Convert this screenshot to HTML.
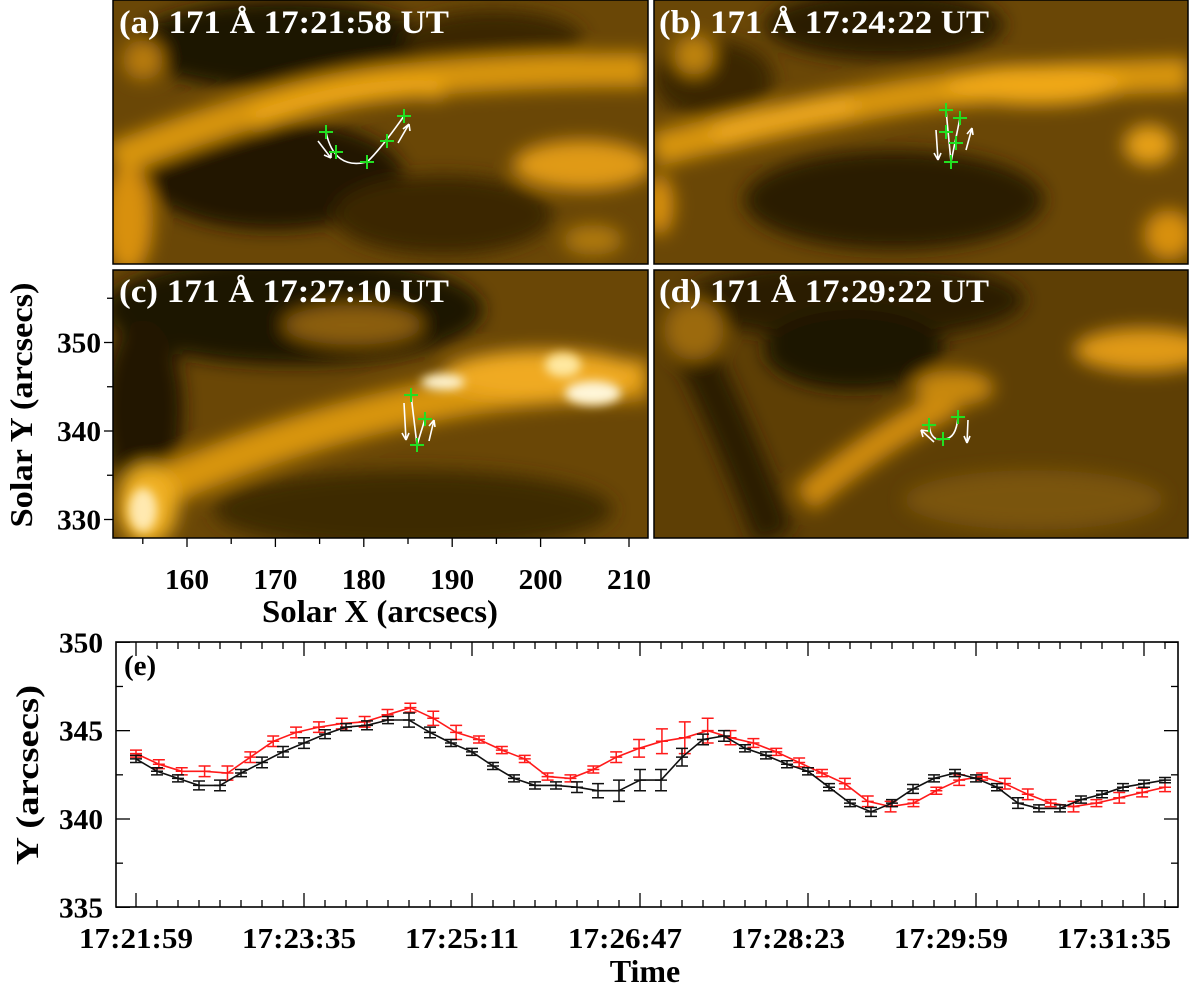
<!DOCTYPE html>
<html><head><meta charset="utf-8">
<style>
html,body{margin:0;padding:0;background:#fff;}
svg{display:block;}
.lbl{font-family:"Liberation Serif",serif;font-weight:bold;fill:#fff;font-size:33px;}
.tk{font-family:"Liberation Serif",serif;font-weight:bold;fill:#000;font-size:29px;}
.ttl{font-family:"Liberation Serif",serif;font-weight:bold;fill:#000;font-size:32px;}
</style></head>
<body>
<svg id="fig" width="1200" height="984" viewBox="0 0 1200 984" xmlns="http://www.w3.org/2000/svg">
<defs>
<filter id="bl" x="-20%" y="-20%" width="140%" height="140%"><feGaussianBlur stdDeviation="9"/></filter>
<filter id="bl2" x="-20%" y="-20%" width="140%" height="140%"><feGaussianBlur stdDeviation="5"/></filter>
<clipPath id="ca"><rect x="113" y="0" width="535" height="264"/></clipPath>
<clipPath id="cb"><rect x="654" y="0" width="534" height="264"/></clipPath>
<clipPath id="cc"><rect x="113" y="270" width="535" height="268"/></clipPath>
<clipPath id="cd"><rect x="654" y="270" width="534" height="268"/></clipPath>
</defs>

<!-- Panel a -->
<g clip-path="url(#ca)">
<rect x="113" y="0" width="535" height="264" fill="#6a4706"/>
<g transform="translate(113,0)" filter="url(#bl)">
<ellipse cx="170" cy="45" rx="150" ry="45" fill="#1f1500"/>
<ellipse cx="380" cy="40" rx="90" ry="30" fill="#3a2703"/>
<ellipse cx="160" cy="175" rx="130" ry="55" fill="#241800"/>
<ellipse cx="330" cy="215" rx="110" ry="40" fill="#3a2804"/>
<path d="M0,160 Q150,100 260,85 T535,70" stroke="#d89510" stroke-width="34" fill="none"/>
<path d="M140,120 Q250,80 330,90" stroke="#f0a818" stroke-width="18" fill="none"/>
<ellipse cx="470" cy="165" rx="70" ry="25" fill="#e09a12"/>
<ellipse cx="15" cy="220" rx="25" ry="55" fill="#d8900e"/>
<ellipse cx="30" cy="60" rx="20" ry="20" fill="#b87c0c"/>
<ellipse cx="480" cy="240" rx="30" ry="15" fill="#b07a0c"/>
</g>
</g>
<rect x="113" y="0" width="535" height="264" fill="none" stroke="#000" stroke-width="1.5"/>
<text class="lbl" x="119" y="33" textLength="330" lengthAdjust="spacingAndGlyphs">(a) 171 Å  17:21:58 UT</text>
<g fill="none" stroke="#fff" stroke-width="1.6">
<path d="M326,132 Q334,170 367,162 Q380,150 404,116"/>
<path d="M318,141 L331,158 M331,158 L324,155 M331,158 L331,151"/>
<path d="M398,143 L409,124 M409,124 L403,129 M409,124 L410,131"/>
</g>
<g stroke="#22e022" stroke-width="2">
<path d="M319,132h14M326,125v14 M329,152h14M336,145v14 M360,162h14M367,155v14 M380,141h14M387,134v14 M397,116h14M404,109v14"/>
</g>

<!-- Panel b -->
<g clip-path="url(#cb)">
<rect x="654" y="0" width="534" height="264" fill="#6a4706"/>
<g transform="translate(654,0)" filter="url(#bl)">
<ellipse cx="230" cy="25" rx="120" ry="35" fill="#2a1c02"/>
<ellipse cx="60" cy="80" rx="60" ry="40" fill="#3a2703"/>
<ellipse cx="240" cy="200" rx="150" ry="50" fill="#2a1c02"/>
<path d="M0,150 Q120,120 230,100 T535,75" stroke="#d89510" stroke-width="34" fill="none"/>
<path d="M60,135 Q140,110 200,105" stroke="#f0aa20" stroke-width="16" fill="none"/>
<ellipse cx="380" cy="85" rx="90" ry="20" fill="#f0a818"/>
<ellipse cx="495" cy="145" rx="25" ry="20" fill="#e6a016"/>
<ellipse cx="515" cy="235" rx="25" ry="25" fill="#d8900e"/>
<ellipse cx="40" cy="55" rx="20" ry="20" fill="#c0840c"/>
<ellipse cx="5" cy="205" rx="15" ry="30" fill="#d8900e"/>
</g>
</g>
<rect x="654" y="0" width="534" height="264" fill="none" stroke="#000" stroke-width="1.5"/>
<text class="lbl" x="659" y="33" textLength="330" lengthAdjust="spacingAndGlyphs">(b) 171 Å  17:24:22 UT</text>
<g fill="none" stroke="#fff" stroke-width="1.6">
<path d="M946,110 L951,162 L960,118"/>
<path d="M936,130 L938,160 M938,160 L934,153 M938,160 L941,153"/>
<path d="M966,150 L972,128 M972,128 L967,134 M972,128 L973,135"/>
</g>
<g stroke="#22e022" stroke-width="2">
<path d="M939,110h14M946,103v14 M953,118h14M960,111v14 M939,132h14M946,125v14 M949,143h14M956,136v14 M944,162h14M951,155v14"/>
</g>

<!-- Panel c -->
<g clip-path="url(#cc)">
<rect x="113" y="270" width="535" height="268" fill="#6a4706"/>
<g transform="translate(113,270)" filter="url(#bl)">
<ellipse cx="180" cy="40" rx="190" ry="55" fill="#1f1500"/>
<ellipse cx="30" cy="140" rx="40" ry="90" fill="#241800"/>
<ellipse cx="300" cy="240" rx="200" ry="40" fill="#3e2a04"/>
<path d="M20,230 Q150,170 280,140 T535,110" stroke="#d89510" stroke-width="40" fill="none"/>
<ellipse cx="430" cy="105" rx="100" ry="25" fill="#f0aa20"/>
<ellipse cx="240" cy="55" rx="70" ry="20" fill="#8c5e08"/>
<ellipse cx="35" cy="235" rx="30" ry="40" fill="#f0b020"/>
</g>
<g transform="translate(113,270)" filter="url(#bl2)">
<ellipse cx="330" cy="112" rx="22" ry="8" fill="#fff4d0"/>
<ellipse cx="480" cy="123" rx="28" ry="12" fill="#fff6d8"/>
<ellipse cx="450" cy="95" rx="18" ry="12" fill="#ffe8a0"/>
<ellipse cx="30" cy="240" rx="14" ry="22" fill="#ffe9b0"/>
</g>
</g>
<rect x="113" y="270" width="535" height="268" fill="none" stroke="#000" stroke-width="1.5"/>
<text class="lbl" x="119" y="302" textLength="330" lengthAdjust="spacingAndGlyphs">(c) 171 Å  17:27:10 UT</text>
<g fill="none" stroke="#fff" stroke-width="1.6">
<path d="M411,395 L417,445 L425,419"/>
<path d="M404,403 L406,440 M406,440 L402,433 M406,440 L409,433"/>
<path d="M429,441 L434,420 M434,420 L429,426 M434,420 L435,427"/>
</g>
<g stroke="#22e022" stroke-width="2">
<path d="M404,395h14M411,388v14 M418,419h14M425,412v14 M410,445h14M417,438v14"/>
</g>

<!-- Panel d -->
<g clip-path="url(#cd)">
<rect x="654" y="270" width="534" height="268" fill="#5e3f05"/>
<g transform="translate(654,270)" filter="url(#bl)">
<ellipse cx="200" cy="30" rx="170" ry="40" fill="#2a1c02"/>
<ellipse cx="200" cy="80" rx="90" ry="40" fill="#1f1500"/>
<path d="M30,60 Q80,160 120,268" stroke="#2a1c02" stroke-width="40" fill="none"/>
<ellipse cx="490" cy="80" rx="70" ry="22" fill="#e09a12"/>
<path d="M150,230 Q220,170 300,130" stroke="#d08c0e" stroke-width="30" fill="none"/>
<ellipse cx="300" cy="118" rx="40" ry="18" fill="#c8880e"/>
<ellipse cx="40" cy="60" rx="30" ry="30" fill="#9c6a0a"/>
<ellipse cx="380" cy="230" rx="130" ry="30" fill="#7a5408"/>
</g>
</g>
<rect x="654" y="270" width="534" height="268" fill="none" stroke="#000" stroke-width="1.5"/>
<text class="lbl" x="659" y="302" textLength="330" lengthAdjust="spacingAndGlyphs">(d) 171 Å  17:29:22 UT</text>
<g fill="none" stroke="#fff" stroke-width="1.6">
<path d="M929,425 Q931,442 943,439 Q956,440 958,417"/>
<path d="M934,442 L921,430 M921,430 L928,431 M921,430 L923,437"/>
<path d="M968,420 L967,443 M967,443 L964,436 M967,443 L970,436"/>
</g>
<g stroke="#22e022" stroke-width="2">
<path d="M922,425h14M929,418v14 M951,417h14M958,410v14 M936,439h14M943,432v14"/>
</g>

<!-- Image axes -->
<g id="imgaxes"></g>
<text class="ttl" x="380" y="622" text-anchor="middle" textLength="236" lengthAdjust="spacingAndGlyphs">Solar X (arcsecs)</text>
<text class="ttl" x="0" y="0" transform="translate(32,405) rotate(-90)" text-anchor="middle" textLength="245" lengthAdjust="spacingAndGlyphs">Solar Y (arcsecs)</text>

<!-- Chart e -->
<g id="chart"></g>
<text class="tk" x="124" y="675">(e)</text>
<text class="ttl" x="645" y="982" text-anchor="middle">Time</text>
<text class="ttl" x="0" y="0" transform="translate(38,775) rotate(-90)" text-anchor="middle" textLength="180" lengthAdjust="spacingAndGlyphs">Y (arcsecs)</text>
</svg>
<script>
const NS="http://www.w3.org/2000/svg";
// ---- data ----
const blackY=[343.4,342.7,342.3,341.9,341.9,342.6,343.2,343.8,344.3,344.8,345.2,345.3,345.6,345.6,344.9,344.3,343.8,343.0,342.3,341.9,341.9,341.8,341.6,341.6,342.2,
342.2,343.5,344.5,344.7,344.0,343.6,343.1,342.7,341.8,340.9,340.4,340.9,341.7,342.3,342.6,342.3,341.8,340.9,340.6,340.6,341.1,341.4,341.8,342.0,342.2];
const blackErr=[0.2,0.2,0.2,0.25,0.3,0.2,0.3,0.3,0.3,0.25,0.2,0.25,0.2,0.4,0.3,0.2,0.2,0.2,0.2,0.2,0.2,0.3,0.4,0.6,0.6,
0.6,0.5,0.3,0.3,0.2,0.2,0.2,0.2,0.2,0.2,0.25,0.2,0.25,0.2,0.2,0.2,0.2,0.3,0.2,0.2,0.2,0.2,0.2,0.2,0.15];
const redY=[343.7,343.1,342.7,342.7,342.6,343.5,344.4,344.9,345.2,345.4,345.5,345.9,346.3,345.7,344.9,344.5,343.9,343.4,342.4,342.3,342.8,343.5,344.0,
344.4,344.6,345.0,344.6,344.3,343.8,343.2,342.6,342.0,341.0,340.7,340.9,341.6,342.2,342.4,342.0,341.4,340.9,340.7,340.9,341.2,341.5,341.8];
const redErr=[0.2,0.25,0.2,0.3,0.4,0.3,0.3,0.3,0.3,0.3,0.3,0.3,0.25,0.4,0.4,0.2,0.2,0.2,0.2,0.2,0.2,0.3,0.5,
0.7,0.9,0.7,0.4,0.25,0.2,0.25,0.2,0.3,0.3,0.3,0.2,0.2,0.3,0.2,0.3,0.3,0.2,0.3,0.2,0.3,0.25,0.25];
const xTickLabels=["17:21:59","17:23:35","17:25:11","17:26:47","17:28:23","17:29:59","17:31:35"];
const yTicks=[335,340,345,350];
const solarXTicks=[160,170,180,190,200,210];
const solarYTicks=[330,340,350];
const SPAN=588;
const TICKSTEP=96;

const X0=136, PXS=1.75;
const xs=t=>X0+t*PXS;
const ys=v=>819-(v-340)*17.67;
const L=116,R=1178,T=642,B=907;
const chart=document.getElementById('chart');
function mk(tag,attrs,parent){const e=document.createElementNS(NS,tag);for(const k in attrs)e.setAttribute(k,attrs[k]);(parent||chart).appendChild(e);return e;}

let fr=mk('rect',{x:L,y:T,width:R-L,height:B-T,fill:'none',stroke:'#000','stroke-width':1.6});


for(let i=0;i<=6*8+2;i++){
  const t=i*12, x=xs(t); if(x>R) break;
  const len=(i%8===0)?14:7;
  mk('line',{x1:x,y1:B,x2:x,y2:B-len,stroke:'#000','stroke-width':1.3});
  mk('line',{x1:x,y1:T,x2:x,y2:T+len,stroke:'#000','stroke-width':1.3});
}
// label positions in reference drift slightly left of the ticks
xTickLabels.forEach((s,i)=>{
  const tx=mk('text',{x:136+i*163,y:948,'text-anchor':'middle',class:'tk',textLength:114,lengthAdjust:'spacingAndGlyphs'});
  tx.textContent=s;
  
  
});
for(let v=335;v<=350;v+=2.5){
  const y=ys(v), len=(v%5===0)?14:7;
  mk('line',{x1:L,y1:y,x2:L+len,y2:y,stroke:'#000','stroke-width':1.3});
  mk('line',{x1:R,y1:y,x2:R-len,y2:y,stroke:'#000','stroke-width':1.3});
}
yTicks.forEach(v=>{
  const tx=mk('text',{x:103,y:ys(v)+10,'text-anchor':'end',class:'tk',textLength:44,lengthAdjust:'spacingAndGlyphs'});
  tx.textContent=v;
  
  
});
function series(vals,errs,color,name){
  const n=vals.length, dt=SPAN/(n-1);
  const g=mk('g',{});
  
  
  const pts=vals.map((v,i)=>xs(i*dt).toFixed(1)+','+ys(v).toFixed(1)).join(' ');
  mk('polyline',{points:pts,fill:'none',stroke:color,'stroke-width':1.6},g);
  vals.forEach((v,i)=>{
    const x=xs(i*dt), y1=ys(v+errs[i]), y2=ys(v-errs[i]), y=ys(v);
    const p=mk('path',{d:`M${x},${y1}V${y2}M${x-6},${y1}h12M${x-6},${y2}h12M${x-6},${y}h12`,stroke:color,'stroke-width':1.5,fill:'none'},g);
    
    
  });
}
series(redY,redErr,'#ff1a1a','red-series');
series(blackY,blackErr,'#111','black-series');

const ia=document.getElementById('imgaxes');
const sx=v=>187+(v-160)*8.84;
const sy=v=>431-(v-340)*8.85;
for(let v=155;v<=210;v+=5){
  const x=sx(v), len=(v%10===0)?9:6;
  mk('line',{x1:x,y1:538,x2:x,y2:538+len,stroke:'#000','stroke-width':1.3},ia);
}
solarXTicks.forEach(v=>{
  const tx=mk('text',{x:sx(v),y:589,'text-anchor':'middle',class:'tk',textLength:44,lengthAdjust:'spacingAndGlyphs'},ia);
  tx.textContent=v;
  
  
});
for(let v=330;v<=355;v+=5){
  const y=sy(v), len=(v%10===0)?9:6;
  mk('line',{x1:113,y1:y,x2:113-len,y2:y,stroke:'#000','stroke-width':1.3},ia);
}
solarYTicks.forEach(v=>{
  const tx=mk('text',{x:101,y:sy(v)+10,'text-anchor':'end',class:'tk',textLength:44,lengthAdjust:'spacingAndGlyphs'},ia);
  tx.textContent=v;
  
  
});
</script>
</body></html>
